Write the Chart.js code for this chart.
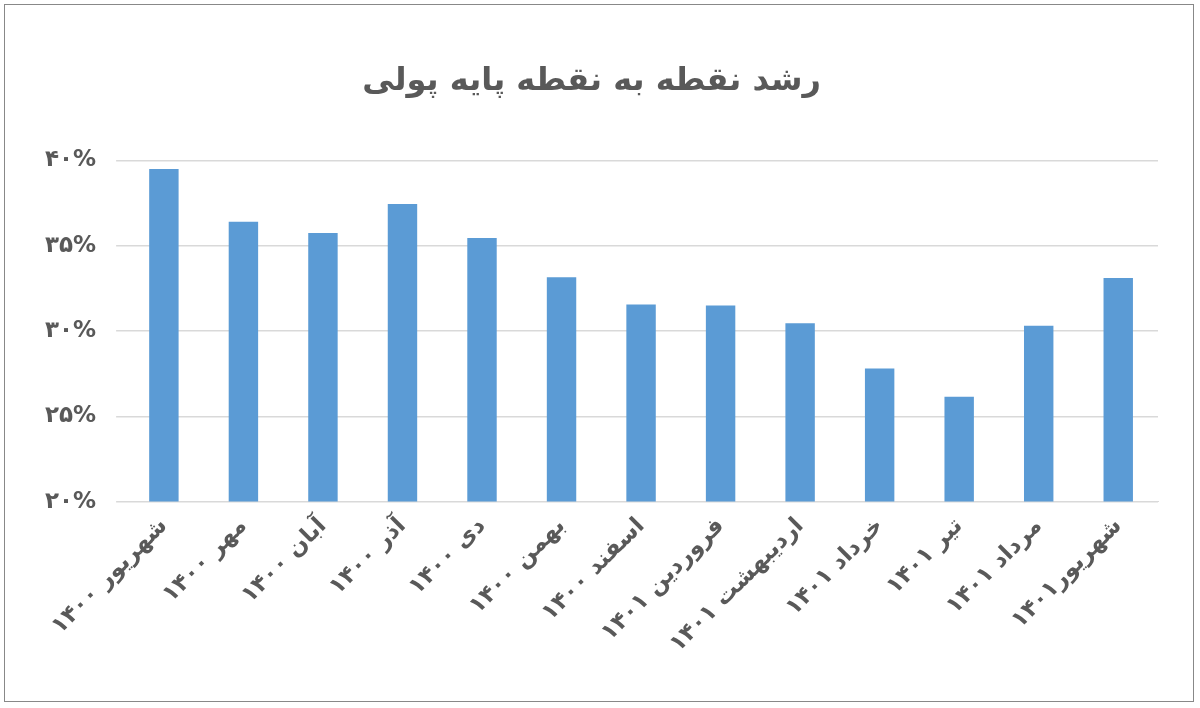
<!DOCTYPE html>
<html>
<head>
<meta charset="utf-8">
<script src="https://cdn.jsdelivr.net/npm/chart.js@4/dist/chart.umd.min.js"></script>
<style>
  html, body { margin: 0; padding: 0; background: #fff; }
  #wrap { position: absolute; left: 4px; top: 4px; width: 1190px; height: 698px; border: 1px solid #888; box-sizing: border-box; }
</style>
</head>
<body>
<div id="wrap"><canvas id="grafica"></canvas></div>
<script>
// Datos de la gráfica
const meses = ['شهریور ۱۴۰۰', 'مهر ۱۴۰۰', 'آبان ۱۴۰۰', 'آذر ۱۴۰۰', 'دی ۱۴۰۰', 'بهمن ۱۴۰۰', 'اسفند ۱۴۰۰',
    'فروردین ۱۴۰۱', 'اردیبهشت ۱۴۰۱', 'خرداد ۱۴۰۱', 'تیر ۱۴۰۱', 'مرداد ۱۴۰۱', 'شهریور۱۴۰۱'];
const rashd = [39.5, 36.4, 35.75, 37.45, 35.45, 33.15, 31.55, 31.5, 30.45, 27.8, 26.15, 30.3, 33.1];
const etiquetasY = { 20: '۲۰%', 25: '۲۵%', 30: '۳۰%', 35: '۳۵%', 40: '۴۰%' };

const fuente = "'DejaVu Sans', sans-serif";

new Chart(document.getElementById('grafica'), {
    type: 'bar',
    data: {
        labels: meses,
        datasets: [{
            data: rashd,
            backgroundColor: '#5b9bd5',
            barPercentage: 0.37,
            categoryPercentage: 1
        }]
    },
    options: {
        responsive: true,
        maintainAspectRatio: false,
        animation: false,
        layout: { padding: { left: 20, right: 35, top: 10, bottom: 40 } },
        plugins: {
            legend: { display: false },
            tooltip: { enabled: false },
            title: {
                display: true,
                text: 'رشد نقطه به نقطه پایه پولی',
                color: '#595959',
                font: { family: fuente, size: 32, weight: 'bold' },
                padding: { top: 47, bottom: 60 }
            }
        },
        scales: {
            x: {
                grid: { display: false },
                border: { color: '#d9d9d9' },
                ticks: {
                    color: '#595959',
                    font: { family: fuente, size: 23, weight: 'bold' },
                    maxRotation: 45, minRotation: 45,
                    autoSkip: false
                }
            },
            y: {
                min: 20, max: 40,
                border: { display: false },
                grid: { color: '#d9d9d9', lineWidth: 1.5 },
                ticks: {
                    stepSize: 5,
                    padding: 20,
                    color: '#595959',
                    font: { family: fuente, size: 23, weight: 'bold' },
                    callback: v => etiquetasY[v]
                }
            }
        }
    }
});
</script>
</body>
</html>
